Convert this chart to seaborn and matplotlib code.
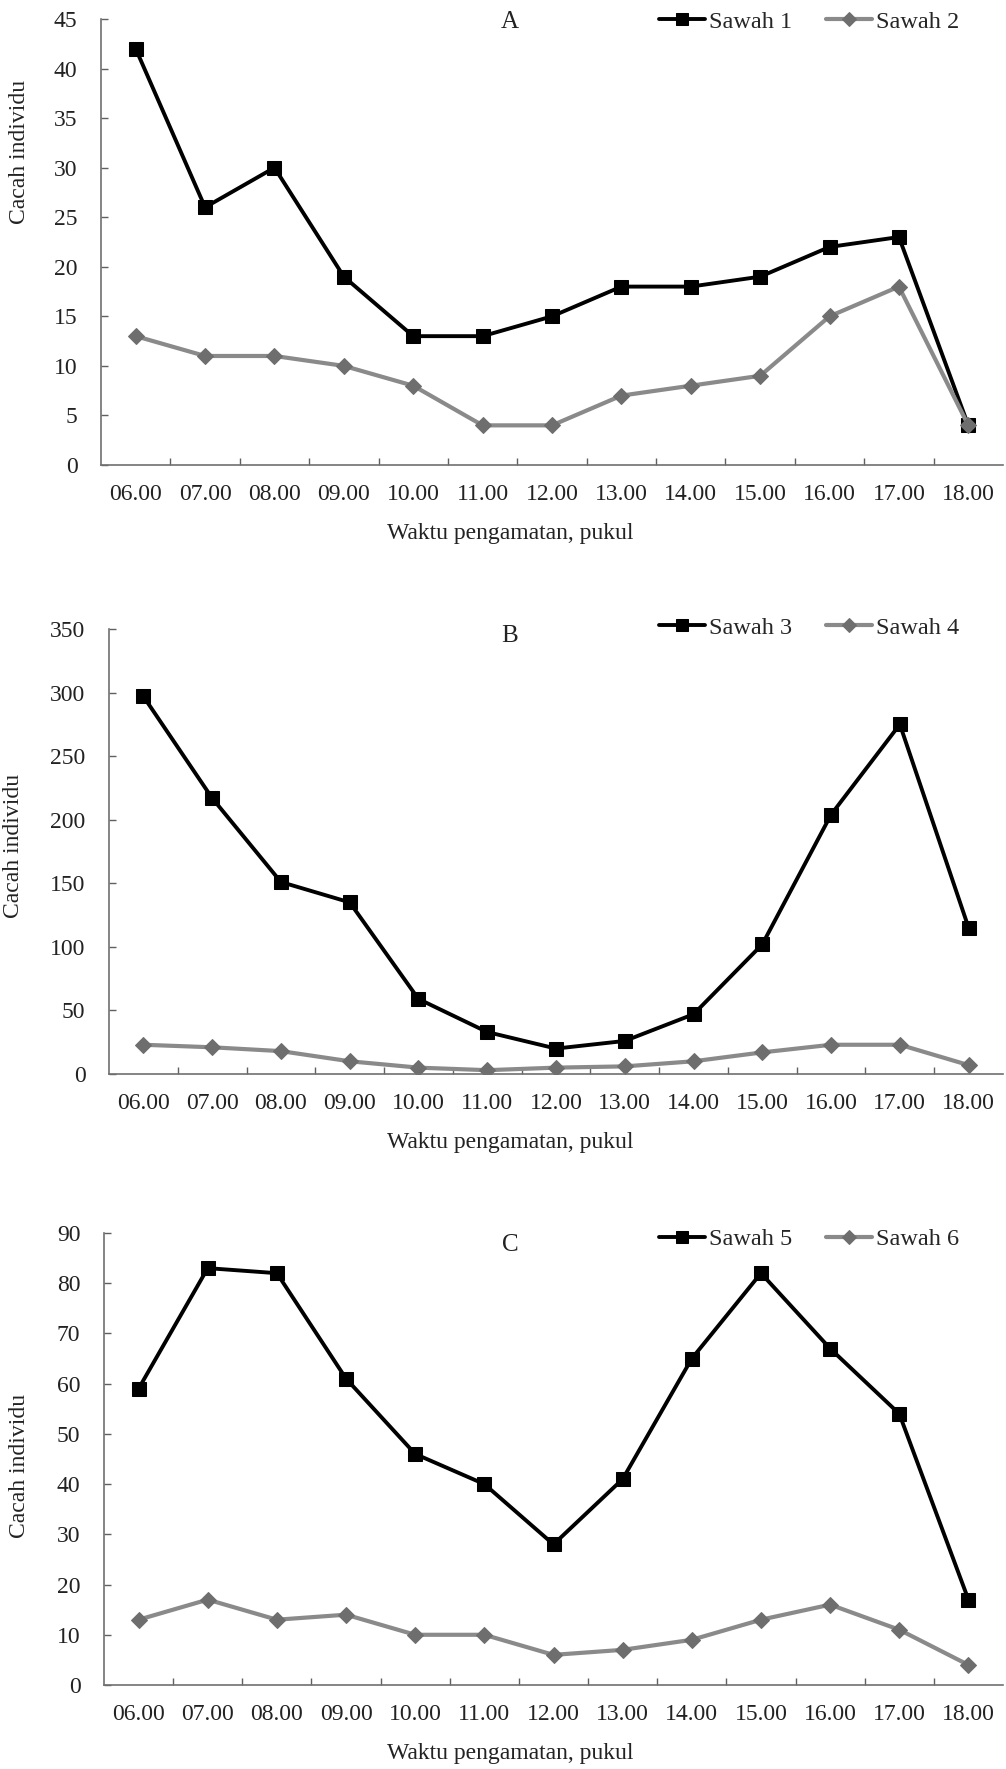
import matplotlib
matplotlib.use("Agg")
import matplotlib.pyplot as plt
import seaborn as sns
import numpy as np

# data
waktu = ['06.00', '07.00', '08.00', '09.00', '10.00', '11.00', '12.00',
         '13.00', '14.00', '15.00', '16.00', '17.00', '18.00']

sawah1 = [42, 26, 30, 19, 13, 13, 15, 18, 18, 19, 22, 23, 4]
sawah2 = [13, 11, 11, 10, 8, 4, 4, 7, 8, 9, 15, 18, 4]

sawah3 = [297, 217, 151, 135, 59, 33, 20, 26, 47, 102, 204, 275, 115]
sawah4 = [23, 21, 18, 10, 5, 3, 5, 6, 10, 17, 23, 23, 7]

sawah5 = [59, 83, 82, 61, 46, 40, 28, 41, 65, 82, 67, 54, 17]
sawah6 = [13, 17, 13, 14, 10, 10, 6, 7, 9, 13, 16, 11, 4]

panels = [
    ('A', sawah1, sawah2, 'Sawah 1', 'Sawah 2', 45, 5),
    ('B', sawah3, sawah4, 'Sawah 3', 'Sawah 4', 350, 50),
    ('C', sawah5, sawah6, 'Sawah 5', 'Sawah 6', 90, 10),
]

sns.set_style("ticks")
plt.rcParams['font.family'] = ['Liberation Serif', 'DejaVu Serif']
plt.rcParams['font.size'] = 17

W, H = 1006, 1769
fig = plt.figure(figsize=(W / 100, H / 100), dpi=100)

# axes boxes in pixels: left, top, right, bottom
boxes = [(101, 19, 1003, 465), (109, 629, 1003, 1074), (104, 1233, 1003, 1685)]
ylab_pos = [(20, 152), (14, 846), (20, 1466)]
letter_y = [22, 636, 1245]
legend_y = [22, 628, 1239]

for i, (letter, s_a, s_b, lab_a, lab_b, ymax, ystep) in enumerate(panels):
    l, t, r, b = boxes[i]
    ax = fig.add_axes([l / W, 1 - b / H, (r - l) / W, (b - t) / H])

    sns.lineplot(x=np.arange(len(waktu)), y=s_a, ax=ax, color='black',
                 marker='s', markersize=10.5, linewidth=2.8,
                 markeredgecolor='black', label=lab_a, sort=False)
    sns.lineplot(x=np.arange(len(waktu)), y=s_b, ax=ax, color='#8a8a8a',
                 marker='D', markersize=8, linewidth=3,
                 markerfacecolor='#6e6e6e', markeredgecolor='#6e6e6e',
                 label=lab_b, sort=False)

    ax.set_xlim(-0.5, len(waktu) - 0.5)
    ax.set_ylim(0, ymax)
    ax.set_yticks(np.arange(0, ymax + 1, ystep))
    ax.set_xticks(np.arange(len(waktu)))
    ax.set_xticklabels(waktu)
    ax.set_xticks(np.arange(len(waktu) - 1) + 0.5, minor=True)
    ax.tick_params(axis='x', which='major', length=0, pad=14, labelsize=17,
                   colors='#222222')
    ax.tick_params(axis='x', which='minor', direction='in', length=5,
                   width=1, color='#606060')
    ax.tick_params(axis='y', direction='in', length=5, width=1,
                   color='#606060', pad=17, labelsize=17, labelcolor='#222222')

    sns.despine(ax=ax)
    for sp in ['left', 'bottom']:
        ax.spines[sp].set_color('#707070')
        ax.spines[sp].set_linewidth(1.2)

    ax.set_xlabel('Waktu pengamatan, pukul', fontsize=17, color='#222222')
    ax.xaxis.set_label_coords((510 - l) / (r - l), -58 / (b - t))
    ax.set_ylabel('Cacah individu', fontsize=17, color='#222222')
    yx, yy = ylab_pos[i]
    ax.yaxis.set_label_coords((yx - l) / (r - l), (b - yy) / (b - t))
    ax.yaxis.label.set_verticalalignment('center')

    fig.text(510 / W, 1 - letter_y[i] / H, letter, fontsize=18,
             ha='center', va='center', color='#222222')

    ax.legend(loc='center left', bbox_to_anchor=(659 / W, 1 - legend_y[i] / H),
              bbox_transform=fig.transFigure, ncol=2, frameon=False,
              fontsize=17.5, handlelength=1.9, handletextpad=0.15,
              columnspacing=1.4, borderpad=0, borderaxespad=0,
              markerscale=0.85)

fig.savefig('out.png', dpi=100)
